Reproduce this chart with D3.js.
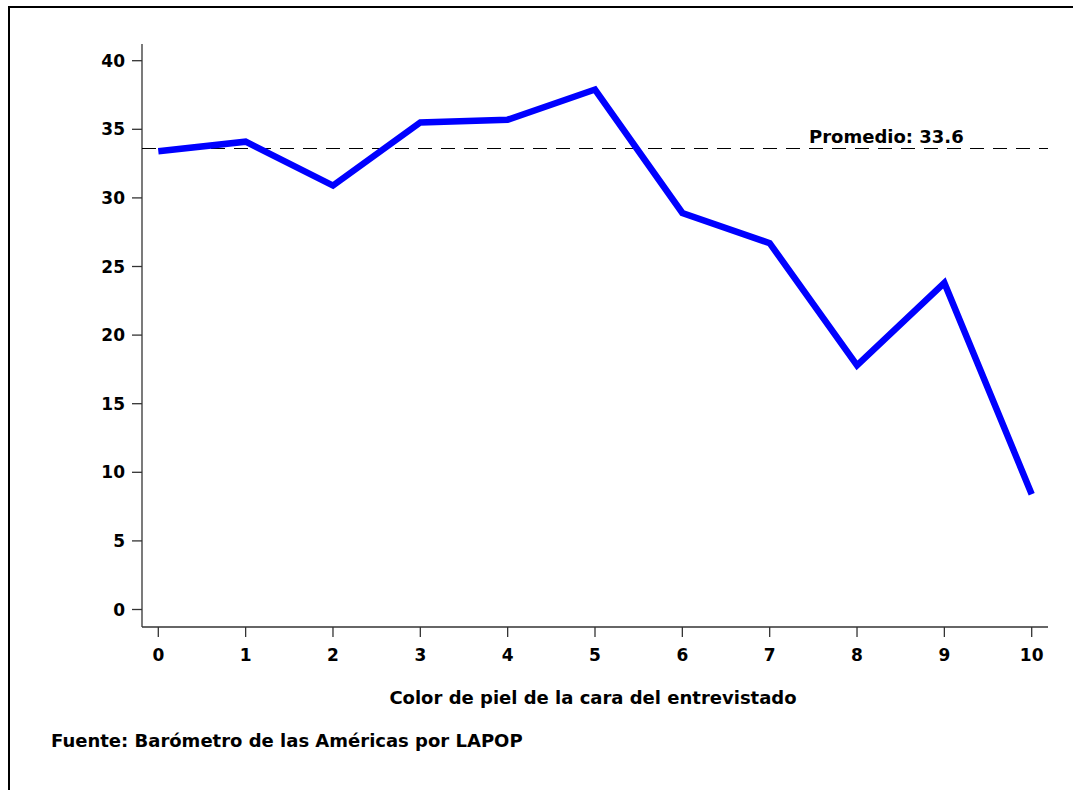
<!DOCTYPE html>
<html>
<head>
<meta charset="utf-8">
<script src="https://cdn.jsdelivr.net/npm/d3@7"></script>
<style>
html,body{margin:0;padding:0;background:#fff;}
svg{display:block;}
text{font-family:"DejaVu Sans",Verdana,sans-serif;font-weight:bold;fill:#000;}
</style>
</head>
<body>
<svg id="chart" width="1073" height="790"></svg>
<script>
const categories = [0,1,2,3,4,5,6,7,8,9,10];
const values = [33.4,34.1,30.9,35.5,35.7,37.9,28.9,26.7,17.8,23.8,8.4];
const yTicks = [0,5,10,15,20,25,30,35,40];
const meanValue = 33.6;
const meanLabel = "Promedio: 33.6";
const xTitle = "Color de piel de la cara del entrevistado";
const source = "Fuente: Barómetro de las Américas por LAPOP";

const svg = d3.select("#chart");

// frame
svg.append("path").attr("d","M9,790 L9,7 L1073,7").attr("fill","none").attr("stroke","#000").attr("stroke-width",2);

const axisX0 = 142, axisX1 = 1048, axisYTop = 44, axisYBottom = 627;
const x = d3.scaleLinear().domain([0,10]).range([158.3,1031.7]);
const y = d3.scaleLinear().domain([0,40]).range([609.5,60.7]);

// y axis
svg.append("line").attr("x1",axisX0).attr("x2",axisX0).attr("y1",axisYTop).attr("y2",axisYBottom).attr("stroke","#333").attr("stroke-width",1.3);
const yg = svg.append("g");
yTicks.forEach(t=>{
  yg.append("line").attr("x1",axisX0-10).attr("x2",axisX0).attr("y1",y(t)).attr("y2",y(t)).attr("stroke","#333").attr("stroke-width",1.3);
  yg.append("text").attr("x",axisX0-17).attr("y",y(t)).attr("dy","0.36em").attr("text-anchor","end").attr("font-size",17).text(t);
});

// x axis
svg.append("line").attr("x1",axisX0).attr("x2",axisX1).attr("y1",axisYBottom).attr("y2",axisYBottom).attr("stroke","#333").attr("stroke-width",1.3);
const xg = svg.append("g");
categories.forEach(c=>{
  xg.append("line").attr("x1",x(c)).attr("x2",x(c)).attr("y1",axisYBottom).attr("y2",axisYBottom+10).attr("stroke","#333").attr("stroke-width",1.3);
  xg.append("text").attr("x",x(c)).attr("y",655).attr("dy","0.36em").attr("text-anchor","middle").attr("font-size",17).text(c);
});

// mean line
svg.append("line").attr("x1",axisX0).attr("x2",axisX1).attr("y1",y(meanValue)).attr("y2",y(meanValue))
  .attr("stroke","#000").attr("stroke-width",1.2).attr("stroke-dasharray","14,9");
svg.append("text").attr("x",809).attr("y",y(meanValue)-6).attr("font-size",18).text(meanLabel);

// data line
const line = d3.line().x((d,i)=>x(categories[i])).y(d=>y(d));
svg.append("path").datum(values).attr("d",line).attr("fill","none").attr("stroke","#0000FF")
  .attr("stroke-width",6.5).attr("stroke-linejoin","miter").attr("stroke-linecap","butt");

// titles
svg.append("text").attr("x",593).attr("y",698).attr("dy","0.36em").attr("text-anchor","middle").attr("font-size",18).text(xTitle);
svg.append("text").attr("x",51).attr("y",741).attr("dy","0.36em").attr("font-size",18).text(source);
</script>
</body>
</html>
